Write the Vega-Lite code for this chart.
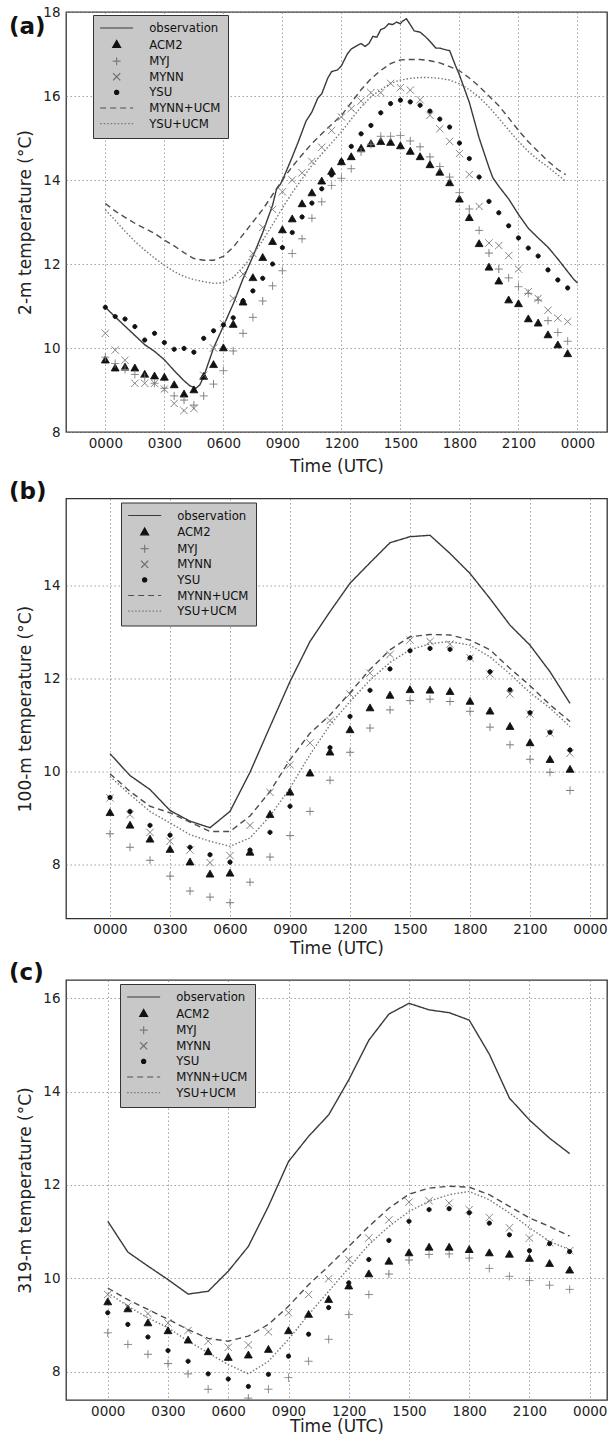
{
"$schema": "https://vega.github.io/schema/vega-lite/v6.json",
"padding": {"left": 8, "top": 4, "right": 2, "bottom": 2},
"spacing": 3.5,
"config": {
 "font": "DejaVu Sans",
 "background": "white",
 "view": {"stroke": "#333333", "strokeWidth": 1.3},
 "axis": {"domain": false, "ticks": false, "grid": true, "gridColor": "#8c8c8c", "gridDash": [1.5, 2.5], "gridWidth": 0.8, "labelFont": "DejaVu Sans", "labelFontSize": 13.5, "labelColor": "#222222", "titleFont": "DejaVu Sans", "titleFontSize": 17, "titleFontWeight": "normal", "titleColor": "#222222"},
 "axisX": {"labelPadding": 4, "titlePadding": 6, "labelExpr": "datum.value % 24 == 0 ? '0000' : (datum.value < 10 ? '0' : '') + toString(datum.value * 100)"},
 "axisY": {"labelPadding": 6, "titlePadding": 8},
 "legend": {"orient": "none", "fillColor": "#c8c8c8", "strokeColor": "#333333", "padding": 7, "labelFont": "DejaVu Sans", "labelFontSize": 11.7, "labelColor": "#111111", "symbolSize": 100, "symbolStrokeWidth": 1.2, "rowPadding": 2.6, "labelOffset": 26.5, "symbolOffset": 10.65},
 "title": {"font": "DejaVu Sans", "fontSize": 23, "fontWeight": "bold", "anchor": "start", "frame": "group", "color": "#111111", "offset": 0, "baseline": "alphabetic"}
},
"resolve": {
 "scale": {"stroke": "independent", "fill": "independent", "shape": "independent", "strokeDash": "independent"},
 "legend": {"stroke": "independent", "fill": "independent", "shape": "independent", "strokeDash": "independent"}
},
"datasets": {
"a": [
{"series":"ACM2","t":0,"v":9.71},{"series":"ACM2","t":0.5,"v":9.52},{"series":"ACM2","t":1,"v":9.54},{"series":"ACM2","t":1.5,"v":9.52},{"series":"ACM2","t":2,"v":9.37},{"series":"ACM2","t":2.5,"v":9.33},{"series":"ACM2","t":3,"v":9.30},{"series":"ACM2","t":3.5,"v":9.12},{"series":"ACM2","t":4,"v":8.90},{"series":"ACM2","t":4.5,"v":9.00},{"series":"ACM2","t":5,"v":9.32},{"series":"ACM2","t":5.5,"v":9.60},{"series":"ACM2","t":6,"v":10.00},{"series":"ACM2","t":6.5,"v":10.56},{"series":"ACM2","t":7,"v":11.09},{"series":"ACM2","t":7.5,"v":11.67},{"series":"ACM2","t":8,"v":12.15},{"series":"ACM2","t":8.5,"v":12.53},{"series":"ACM2","t":9,"v":12.81},{"series":"ACM2","t":9.5,"v":13.07},{"series":"ACM2","t":10,"v":13.43},{"series":"ACM2","t":10.5,"v":13.69},{"series":"ACM2","t":11,"v":13.97},{"series":"ACM2","t":11.5,"v":14.20},{"series":"ACM2","t":12,"v":14.43},{"series":"ACM2","t":12.5,"v":14.55},{"series":"ACM2","t":13,"v":14.75},{"series":"ACM2","t":13.5,"v":14.86},{"series":"ACM2","t":14,"v":14.91},{"series":"ACM2","t":14.5,"v":14.89},{"series":"ACM2","t":15,"v":14.81},{"series":"ACM2","t":15.5,"v":14.68},{"series":"ACM2","t":16,"v":14.55},{"series":"ACM2","t":16.5,"v":14.36},{"series":"ACM2","t":17,"v":14.18},{"series":"ACM2","t":17.5,"v":13.93},{"series":"ACM2","t":18,"v":13.54},{"series":"ACM2","t":18.5,"v":13.10},{"series":"ACM2","t":19,"v":12.48},{"series":"ACM2","t":19.5,"v":11.92},{"series":"ACM2","t":20,"v":11.59},{"series":"ACM2","t":20.5,"v":11.14},{"series":"ACM2","t":21,"v":11.05},{"series":"ACM2","t":21.5,"v":10.69},{"series":"ACM2","t":22,"v":10.59},{"series":"ACM2","t":22.5,"v":10.31},{"series":"ACM2","t":23,"v":10.07},{"series":"ACM2","t":23.5,"v":9.86},
{"series":"MYJ","t":0,"v":9.78},{"series":"MYJ","t":0.5,"v":9.63},{"series":"MYJ","t":1,"v":9.49},{"series":"MYJ","t":1.5,"v":9.37},{"series":"MYJ","t":2,"v":9.30},{"series":"MYJ","t":2.5,"v":9.16},{"series":"MYJ","t":3,"v":9.04},{"series":"MYJ","t":3.5,"v":8.86},{"series":"MYJ","t":4,"v":8.76},{"series":"MYJ","t":4.5,"v":8.64},{"series":"MYJ","t":5,"v":8.86},{"series":"MYJ","t":5.5,"v":9.14},{"series":"MYJ","t":6,"v":9.46},{"series":"MYJ","t":6.5,"v":9.93},{"series":"MYJ","t":7,"v":10.35},{"series":"MYJ","t":7.5,"v":10.73},{"series":"MYJ","t":8,"v":11.12},{"series":"MYJ","t":8.5,"v":11.48},{"series":"MYJ","t":9,"v":11.84},{"series":"MYJ","t":9.5,"v":12.25},{"series":"MYJ","t":10,"v":12.60},{"series":"MYJ","t":10.5,"v":13.09},{"series":"MYJ","t":11,"v":13.48},{"series":"MYJ","t":11.5,"v":13.87},{"series":"MYJ","t":12,"v":14.04},{"series":"MYJ","t":12.5,"v":14.27},{"series":"MYJ","t":13,"v":14.67},{"series":"MYJ","t":13.5,"v":14.85},{"series":"MYJ","t":14,"v":15.04},{"series":"MYJ","t":14.5,"v":15.04},{"series":"MYJ","t":15,"v":15.06},{"series":"MYJ","t":15.5,"v":14.93},{"series":"MYJ","t":16,"v":14.79},{"series":"MYJ","t":16.5,"v":14.55},{"series":"MYJ","t":17,"v":14.32},{"series":"MYJ","t":17.5,"v":14.07},{"series":"MYJ","t":18,"v":13.70},{"series":"MYJ","t":18.5,"v":13.31},{"series":"MYJ","t":19,"v":12.80},{"series":"MYJ","t":19.5,"v":12.26},{"series":"MYJ","t":20,"v":11.88},{"series":"MYJ","t":20.5,"v":11.67},{"series":"MYJ","t":21,"v":11.46},{"series":"MYJ","t":21.5,"v":11.30},{"series":"MYJ","t":22,"v":11.14},{"series":"MYJ","t":22.5,"v":10.65},{"series":"MYJ","t":23,"v":10.37},{"series":"MYJ","t":23.5,"v":10.16},
{"series":"MYNN","t":0,"v":10.35},{"series":"MYNN","t":0.5,"v":9.95},{"series":"MYNN","t":1,"v":9.71},{"series":"MYNN","t":1.5,"v":9.16},{"series":"MYNN","t":2,"v":9.16},{"series":"MYNN","t":2.5,"v":9.16},{"series":"MYNN","t":3,"v":9.02},{"series":"MYNN","t":3.5,"v":8.68},{"series":"MYNN","t":4,"v":8.51},{"series":"MYNN","t":4.5,"v":8.56},{"series":"MYNN","t":5,"v":9.35},{"series":"MYNN","t":5.5,"v":10.00},{"series":"MYNN","t":6,"v":10.58},{"series":"MYNN","t":6.5,"v":11.18},{"series":"MYNN","t":7,"v":11.76},{"series":"MYNN","t":7.5,"v":12.25},{"series":"MYNN","t":8,"v":12.87},{"series":"MYNN","t":8.5,"v":13.30},{"series":"MYNN","t":9,"v":13.72},{"series":"MYNN","t":9.5,"v":14.00},{"series":"MYNN","t":10,"v":14.17},{"series":"MYNN","t":10.5,"v":14.44},{"series":"MYNN","t":11,"v":14.78},{"series":"MYNN","t":11.5,"v":15.18},{"series":"MYNN","t":12,"v":15.50},{"series":"MYNN","t":12.5,"v":15.70},{"series":"MYNN","t":13,"v":15.88},{"series":"MYNN","t":13.5,"v":16.08},{"series":"MYNN","t":14,"v":16.08},{"series":"MYNN","t":14.5,"v":16.30},{"series":"MYNN","t":15,"v":16.20},{"series":"MYNN","t":15.5,"v":16.14},{"series":"MYNN","t":16,"v":15.91},{"series":"MYNN","t":16.5,"v":15.54},{"series":"MYNN","t":17,"v":15.22},{"series":"MYNN","t":17.5,"v":14.92},{"series":"MYNN","t":18,"v":14.63},{"series":"MYNN","t":18.5,"v":14.13},{"series":"MYNN","t":19,"v":13.37},{"series":"MYNN","t":19.5,"v":12.50},{"series":"MYNN","t":20,"v":12.44},{"series":"MYNN","t":20.5,"v":12.20},{"series":"MYNN","t":21,"v":11.88},{"series":"MYNN","t":21.5,"v":11.34},{"series":"MYNN","t":22,"v":11.18},{"series":"MYNN","t":22.5,"v":10.90},{"series":"MYNN","t":23,"v":10.71},{"series":"MYNN","t":23.5,"v":10.63},
{"series":"YSU","t":0,"v":10.97},{"series":"YSU","t":0.5,"v":10.75},{"series":"YSU","t":1,"v":10.69},{"series":"YSU","t":1.5,"v":10.51},{"series":"YSU","t":2,"v":10.19},{"series":"YSU","t":2.5,"v":10.35},{"series":"YSU","t":3,"v":10.13},{"series":"YSU","t":3.5,"v":9.97},{"series":"YSU","t":4,"v":9.99},{"series":"YSU","t":4.5,"v":9.90},{"series":"YSU","t":5,"v":10.23},{"series":"YSU","t":5.5,"v":10.41},{"series":"YSU","t":6,"v":10.55},{"series":"YSU","t":6.5,"v":10.72},{"series":"YSU","t":7,"v":11.12},{"series":"YSU","t":7.5,"v":11.36},{"series":"YSU","t":8,"v":11.66},{"series":"YSU","t":8.5,"v":12.00},{"series":"YSU","t":9,"v":12.39},{"series":"YSU","t":9.5,"v":12.75},{"series":"YSU","t":10,"v":13.12},{"series":"YSU","t":10.5,"v":13.45},{"series":"YSU","t":11,"v":13.79},{"series":"YSU","t":11.5,"v":14.12},{"series":"YSU","t":12,"v":14.45},{"series":"YSU","t":12.5,"v":14.80},{"series":"YSU","t":13,"v":15.10},{"series":"YSU","t":13.5,"v":15.30},{"series":"YSU","t":14,"v":15.60},{"series":"YSU","t":14.5,"v":15.82},{"series":"YSU","t":15,"v":15.90},{"series":"YSU","t":15.5,"v":15.86},{"series":"YSU","t":16,"v":15.78},{"series":"YSU","t":16.5,"v":15.64},{"series":"YSU","t":17,"v":15.45},{"series":"YSU","t":17.5,"v":15.26},{"series":"YSU","t":18,"v":14.88},{"series":"YSU","t":18.5,"v":14.51},{"series":"YSU","t":19,"v":14.07},{"series":"YSU","t":19.5,"v":13.49},{"series":"YSU","t":20,"v":13.22},{"series":"YSU","t":20.5,"v":12.91},{"series":"YSU","t":21,"v":12.62},{"series":"YSU","t":21.5,"v":12.38},{"series":"YSU","t":22,"v":12.19},{"series":"YSU","t":22.5,"v":11.86},{"series":"YSU","t":23,"v":11.62},{"series":"YSU","t":23.5,"v":11.43},
{"series":"observation","t":0,"v":10.97},{"series":"observation","t":0.5,"v":10.74},{"series":"observation","t":1,"v":10.52},{"series":"observation","t":1.5,"v":10.3},{"series":"observation","t":2,"v":10.08},{"series":"observation","t":2.5,"v":9.92},{"series":"observation","t":3,"v":9.72},{"series":"observation","t":3.5,"v":9.46},{"series":"observation","t":4,"v":9.22},{"series":"observation","t":4.3,"v":9.1},{"series":"observation","t":4.6,"v":9.04},{"series":"observation","t":4.8,"v":9.12},{"series":"observation","t":5,"v":9.32},{"series":"observation","t":5.5,"v":10.0},{"series":"observation","t":6,"v":10.52},{"series":"observation","t":6.5,"v":11.05},{"series":"observation","t":7,"v":11.65},{"series":"observation","t":7.5,"v":12.18},{"series":"observation","t":8,"v":12.75},{"series":"observation","t":8.5,"v":13.4},{"series":"observation","t":8.7,"v":13.78},{"series":"observation","t":8.9,"v":13.9},{"series":"observation","t":9.1,"v":14.1},{"series":"observation","t":9.5,"v":14.55},{"series":"observation","t":9.8,"v":14.9},{"series":"observation","t":10,"v":15.15},{"series":"observation","t":10.2,"v":15.4},{"series":"observation","t":10.5,"v":15.62},{"series":"observation","t":10.8,"v":15.95},{"series":"observation","t":11,"v":16.05},{"series":"observation","t":11.3,"v":16.42},{"series":"observation","t":11.5,"v":16.58},{"series":"observation","t":11.8,"v":16.62},{"series":"observation","t":12,"v":16.72},{"series":"observation","t":12.3,"v":17.0},{"series":"observation","t":12.5,"v":17.12},{"series":"observation","t":12.8,"v":17.2},{"series":"observation","t":13,"v":17.25},{"series":"observation","t":13.2,"v":17.18},{"series":"observation","t":13.4,"v":17.25},{"series":"observation","t":13.6,"v":17.42},{"series":"observation","t":13.8,"v":17.4},{"series":"observation","t":14,"v":17.58},{"series":"observation","t":14.2,"v":17.62},{"series":"observation","t":14.4,"v":17.72},{"series":"observation","t":14.6,"v":17.7},{"series":"observation","t":14.8,"v":17.76},{"series":"observation","t":15,"v":17.72},{"series":"observation","t":15.1,"v":17.78},{"series":"observation","t":15.3,"v":17.84},{"series":"observation","t":15.5,"v":17.7},{"series":"observation","t":15.7,"v":17.55},{"series":"observation","t":16,"v":17.52},{"series":"observation","t":16.3,"v":17.4},{"series":"observation","t":16.6,"v":17.25},{"series":"observation","t":16.8,"v":17.14},{"series":"observation","t":17,"v":17.14},{"series":"observation","t":17.3,"v":17.1},{"series":"observation","t":17.5,"v":17.08},{"series":"observation","t":17.8,"v":16.72},{"series":"observation","t":18,"v":16.5},{"series":"observation","t":18.5,"v":15.85},{"series":"observation","t":19,"v":15.0},{"series":"observation","t":19.5,"v":14.3},{"series":"observation","t":19.7,"v":14.05},{"series":"observation","t":20,"v":13.85},{"series":"observation","t":20.5,"v":13.55},{"series":"observation","t":21,"v":13.18},{"series":"observation","t":21.5,"v":12.85},{"series":"observation","t":22,"v":12.62},{"series":"observation","t":22.5,"v":12.4},{"series":"observation","t":23,"v":12.12},{"series":"observation","t":23.5,"v":11.82},{"series":"observation","t":23.8,"v":11.64},{"series":"observation","t":24,"v":11.55},
{"series":"MYNN+UCM","t":0,"v":13.44},{"series":"MYNN+UCM","t":0.5,"v":13.26},{"series":"MYNN+UCM","t":1,"v":13.11},{"series":"MYNN+UCM","t":1.5,"v":12.97},{"series":"MYNN+UCM","t":2,"v":12.85},{"series":"MYNN+UCM","t":2.5,"v":12.73},{"series":"MYNN+UCM","t":3,"v":12.57},{"series":"MYNN+UCM","t":3.5,"v":12.43},{"series":"MYNN+UCM","t":4,"v":12.27},{"series":"MYNN+UCM","t":4.5,"v":12.13},{"series":"MYNN+UCM","t":5,"v":12.09},{"series":"MYNN+UCM","t":5.5,"v":12.09},{"series":"MYNN+UCM","t":6,"v":12.18},{"series":"MYNN+UCM","t":6.5,"v":12.4},{"series":"MYNN+UCM","t":7,"v":12.7},{"series":"MYNN+UCM","t":7.5,"v":13.0},{"series":"MYNN+UCM","t":8,"v":13.3},{"series":"MYNN+UCM","t":8.5,"v":13.65},{"series":"MYNN+UCM","t":9,"v":14.0},{"series":"MYNN+UCM","t":9.5,"v":14.32},{"series":"MYNN+UCM","t":10,"v":14.6},{"series":"MYNN+UCM","t":10.5,"v":14.87},{"series":"MYNN+UCM","t":11,"v":15.1},{"series":"MYNN+UCM","t":11.5,"v":15.32},{"series":"MYNN+UCM","t":12,"v":15.54},{"series":"MYNN+UCM","t":12.5,"v":15.84},{"series":"MYNN+UCM","t":13,"v":16.15},{"series":"MYNN+UCM","t":13.5,"v":16.41},{"series":"MYNN+UCM","t":14,"v":16.61},{"series":"MYNN+UCM","t":14.5,"v":16.77},{"series":"MYNN+UCM","t":15,"v":16.86},{"series":"MYNN+UCM","t":15.5,"v":16.87},{"series":"MYNN+UCM","t":16,"v":16.87},{"series":"MYNN+UCM","t":16.5,"v":16.84},{"series":"MYNN+UCM","t":17,"v":16.79},{"series":"MYNN+UCM","t":17.5,"v":16.7},{"series":"MYNN+UCM","t":18,"v":16.6},{"series":"MYNN+UCM","t":18.5,"v":16.43},{"series":"MYNN+UCM","t":19,"v":16.23},{"series":"MYNN+UCM","t":19.5,"v":16.0},{"series":"MYNN+UCM","t":20,"v":15.77},{"series":"MYNN+UCM","t":20.5,"v":15.48},{"series":"MYNN+UCM","t":21,"v":15.18},{"series":"MYNN+UCM","t":21.5,"v":14.91},{"series":"MYNN+UCM","t":22,"v":14.68},{"series":"MYNN+UCM","t":22.5,"v":14.45},{"series":"MYNN+UCM","t":23,"v":14.25},{"series":"MYNN+UCM","t":23.4,"v":14.13},
{"series":"YSU+UCM","t":0,"v":13.29},{"series":"YSU+UCM","t":0.5,"v":13.04},{"series":"YSU+UCM","t":1,"v":12.78},{"series":"YSU+UCM","t":1.5,"v":12.54},{"series":"YSU+UCM","t":2,"v":12.33},{"series":"YSU+UCM","t":2.5,"v":12.14},{"series":"YSU+UCM","t":3,"v":11.97},{"series":"YSU+UCM","t":3.5,"v":11.82},{"series":"YSU+UCM","t":4,"v":11.7},{"series":"YSU+UCM","t":4.5,"v":11.63},{"series":"YSU+UCM","t":5,"v":11.58},{"series":"YSU+UCM","t":5.5,"v":11.54},{"series":"YSU+UCM","t":6,"v":11.55},{"series":"YSU+UCM","t":6.5,"v":11.68},{"series":"YSU+UCM","t":7,"v":11.92},{"series":"YSU+UCM","t":7.5,"v":12.22},{"series":"YSU+UCM","t":8,"v":12.56},{"series":"YSU+UCM","t":8.5,"v":12.94},{"series":"YSU+UCM","t":9,"v":13.33},{"series":"YSU+UCM","t":9.5,"v":13.7},{"series":"YSU+UCM","t":10,"v":14.03},{"series":"YSU+UCM","t":10.5,"v":14.35},{"series":"YSU+UCM","t":11,"v":14.62},{"series":"YSU+UCM","t":11.5,"v":14.88},{"series":"YSU+UCM","t":12,"v":15.15},{"series":"YSU+UCM","t":12.5,"v":15.45},{"series":"YSU+UCM","t":13,"v":15.74},{"series":"YSU+UCM","t":13.5,"v":15.98},{"series":"YSU+UCM","t":14,"v":16.15},{"series":"YSU+UCM","t":14.5,"v":16.3},{"series":"YSU+UCM","t":15,"v":16.38},{"series":"YSU+UCM","t":15.5,"v":16.42},{"series":"YSU+UCM","t":16,"v":16.44},{"series":"YSU+UCM","t":16.5,"v":16.44},{"series":"YSU+UCM","t":17,"v":16.42},{"series":"YSU+UCM","t":17.5,"v":16.38},{"series":"YSU+UCM","t":18,"v":16.29},{"series":"YSU+UCM","t":18.5,"v":16.15},{"series":"YSU+UCM","t":19,"v":15.97},{"series":"YSU+UCM","t":19.5,"v":15.74},{"series":"YSU+UCM","t":20,"v":15.47},{"series":"YSU+UCM","t":20.5,"v":15.19},{"series":"YSU+UCM","t":21,"v":14.92},{"series":"YSU+UCM","t":21.5,"v":14.68},{"series":"YSU+UCM","t":22,"v":14.48},{"series":"YSU+UCM","t":22.5,"v":14.31},{"series":"YSU+UCM","t":23,"v":14.12},{"series":"YSU+UCM","t":23.4,"v":13.97}
],
"b": [
{"series":"ACM2","t":0,"v":9.11},{"series":"ACM2","t":1,"v":8.84},{"series":"ACM2","t":2,"v":8.54},{"series":"ACM2","t":3,"v":8.32},{"series":"ACM2","t":4,"v":8.05},{"series":"ACM2","t":5,"v":7.79},{"series":"ACM2","t":6,"v":7.81},{"series":"ACM2","t":7,"v":8.26},{"series":"ACM2","t":8,"v":9.07},{"series":"ACM2","t":9,"v":9.55},{"series":"ACM2","t":10,"v":9.96},{"series":"ACM2","t":11,"v":10.41},{"series":"ACM2","t":12,"v":10.89},{"series":"ACM2","t":13,"v":11.36},{"series":"ACM2","t":14,"v":11.63},{"series":"ACM2","t":15,"v":11.75},{"series":"ACM2","t":16,"v":11.74},{"series":"ACM2","t":17,"v":11.71},{"series":"ACM2","t":18,"v":11.5},{"series":"ACM2","t":19,"v":11.29},{"series":"ACM2","t":20,"v":10.96},{"series":"ACM2","t":21,"v":10.61},{"series":"ACM2","t":22,"v":10.25},{"series":"ACM2","t":23,"v":10.04},
{"series":"MYJ","t":0,"v":8.66},{"series":"MYJ","t":1,"v":8.37},{"series":"MYJ","t":2,"v":8.09},{"series":"MYJ","t":3,"v":7.75},{"series":"MYJ","t":4,"v":7.43},{"series":"MYJ","t":5,"v":7.3},{"series":"MYJ","t":6,"v":7.18},{"series":"MYJ","t":7,"v":7.62},{"series":"MYJ","t":8,"v":8.16},{"series":"MYJ","t":9,"v":8.62},{"series":"MYJ","t":10,"v":9.14},{"series":"MYJ","t":11,"v":9.81},{"series":"MYJ","t":12,"v":10.41},{"series":"MYJ","t":13,"v":10.93},{"series":"MYJ","t":14,"v":11.32},{"series":"MYJ","t":15,"v":11.52},{"series":"MYJ","t":16,"v":11.55},{"series":"MYJ","t":17,"v":11.5},{"series":"MYJ","t":18,"v":11.29},{"series":"MYJ","t":19,"v":10.95},{"series":"MYJ","t":20,"v":10.57},{"series":"MYJ","t":21,"v":10.26},{"series":"MYJ","t":22,"v":9.98},{"series":"MYJ","t":23,"v":9.59},
{"series":"MYNN","t":0,"v":9.43},{"series":"MYNN","t":1,"v":9.07},{"series":"MYNN","t":2,"v":8.69},{"series":"MYNN","t":3,"v":8.5},{"series":"MYNN","t":4,"v":8.31},{"series":"MYNN","t":5,"v":8.04},{"series":"MYNN","t":6,"v":8.19},{"series":"MYNN","t":7,"v":8.84},{"series":"MYNN","t":8,"v":9.55},{"series":"MYNN","t":9,"v":10.14},{"series":"MYNN","t":10,"v":10.61},{"series":"MYNN","t":11,"v":11.09},{"series":"MYNN","t":12,"v":11.66},{"series":"MYNN","t":13,"v":12.11},{"series":"MYNN","t":14,"v":12.51},{"series":"MYNN","t":15,"v":12.82},{"series":"MYNN","t":16,"v":12.79},{"series":"MYNN","t":17,"v":12.73},{"series":"MYNN","t":18,"v":12.44},{"series":"MYNN","t":19,"v":12.09},{"series":"MYNN","t":20,"v":11.66},{"series":"MYNN","t":21,"v":11.23},{"series":"MYNN","t":22,"v":10.82},{"series":"MYNN","t":23,"v":10.39},
{"series":"YSU","t":0,"v":9.44},{"series":"YSU","t":1,"v":9.14},{"series":"YSU","t":2,"v":8.84},{"series":"YSU","t":3,"v":8.63},{"series":"YSU","t":4,"v":8.37},{"series":"YSU","t":5,"v":8.21},{"series":"YSU","t":6,"v":8.05},{"series":"YSU","t":7,"v":8.31},{"series":"YSU","t":8,"v":8.69},{"series":"YSU","t":9,"v":9.25},{"series":"YSU","t":10,"v":9.95},{"series":"YSU","t":11,"v":10.51},{"series":"YSU","t":12,"v":11.18},{"series":"YSU","t":13,"v":11.74},{"series":"YSU","t":14,"v":12.2},{"series":"YSU","t":15,"v":12.59},{"series":"YSU","t":16,"v":12.64},{"series":"YSU","t":17,"v":12.62},{"series":"YSU","t":18,"v":12.44},{"series":"YSU","t":19,"v":12.14},{"series":"YSU","t":20,"v":11.75},{"series":"YSU","t":21,"v":11.26},{"series":"YSU","t":22,"v":10.84},{"series":"YSU","t":23,"v":10.46},
{"series":"observation","t":0,"v":10.38},{"series":"observation","t":1,"v":9.91},{"series":"observation","t":2,"v":9.61},{"series":"observation","t":3,"v":9.16},{"series":"observation","t":4,"v":8.93},{"series":"observation","t":5,"v":8.79},{"series":"observation","t":6,"v":9.14},{"series":"observation","t":7,"v":9.98},{"series":"observation","t":8,"v":10.96},{"series":"observation","t":9,"v":11.93},{"series":"observation","t":10,"v":12.79},{"series":"observation","t":11,"v":13.43},{"series":"observation","t":12,"v":14.04},{"series":"observation","t":13,"v":14.48},{"series":"observation","t":14,"v":14.91},{"series":"observation","t":15,"v":15.04},{"series":"observation","t":16,"v":15.07},{"series":"observation","t":17,"v":14.68},{"series":"observation","t":18,"v":14.25},{"series":"observation","t":19,"v":13.71},{"series":"observation","t":20,"v":13.14},{"series":"observation","t":21,"v":12.71},{"series":"observation","t":22,"v":12.14},{"series":"observation","t":23,"v":11.46},
{"series":"MYNN+UCM","t":0,"v":9.95},{"series":"MYNN+UCM","t":1,"v":9.57},{"series":"MYNN+UCM","t":2,"v":9.25},{"series":"MYNN+UCM","t":3,"v":9.11},{"series":"MYNN+UCM","t":4,"v":8.91},{"series":"MYNN+UCM","t":5,"v":8.71},{"series":"MYNN+UCM","t":6,"v":8.71},{"series":"MYNN+UCM","t":7,"v":9.04},{"series":"MYNN+UCM","t":8,"v":9.57},{"series":"MYNN+UCM","t":9,"v":10.25},{"series":"MYNN+UCM","t":10,"v":10.82},{"series":"MYNN+UCM","t":11,"v":11.21},{"series":"MYNN+UCM","t":12,"v":11.69},{"series":"MYNN+UCM","t":13,"v":12.19},{"series":"MYNN+UCM","t":14,"v":12.61},{"series":"MYNN+UCM","t":15,"v":12.89},{"series":"MYNN+UCM","t":16,"v":12.94},{"series":"MYNN+UCM","t":17,"v":12.93},{"series":"MYNN+UCM","t":18,"v":12.82},{"series":"MYNN+UCM","t":19,"v":12.61},{"series":"MYNN+UCM","t":20,"v":12.21},{"series":"MYNN+UCM","t":21,"v":11.84},{"series":"MYNN+UCM","t":22,"v":11.43},{"series":"MYNN+UCM","t":23,"v":11.07},
{"series":"YSU+UCM","t":0,"v":9.89},{"series":"YSU+UCM","t":1,"v":9.5},{"series":"YSU+UCM","t":2,"v":9.14},{"series":"YSU+UCM","t":3,"v":8.89},{"series":"YSU+UCM","t":4,"v":8.64},{"series":"YSU+UCM","t":5,"v":8.5},{"series":"YSU+UCM","t":6,"v":8.39},{"series":"YSU+UCM","t":7,"v":8.57},{"series":"YSU+UCM","t":8,"v":9.04},{"series":"YSU+UCM","t":9,"v":9.64},{"series":"YSU+UCM","t":10,"v":10.36},{"series":"YSU+UCM","t":11,"v":11.0},{"series":"YSU+UCM","t":12,"v":11.5},{"series":"YSU+UCM","t":13,"v":11.96},{"series":"YSU+UCM","t":14,"v":12.34},{"series":"YSU+UCM","t":15,"v":12.61},{"series":"YSU+UCM","t":16,"v":12.74},{"series":"YSU+UCM","t":17,"v":12.79},{"series":"YSU+UCM","t":18,"v":12.71},{"series":"YSU+UCM","t":19,"v":12.46},{"series":"YSU+UCM","t":20,"v":12.09},{"series":"YSU+UCM","t":21,"v":11.69},{"series":"YSU+UCM","t":22,"v":11.36},{"series":"YSU+UCM","t":23,"v":10.96}
],
"c": [
{"series":"ACM2","t":0,"v":9.49},{"series":"ACM2","t":1,"v":9.34},{"series":"ACM2","t":2,"v":9.04},{"series":"ACM2","t":3,"v":8.87},{"series":"ACM2","t":4,"v":8.67},{"series":"ACM2","t":5,"v":8.42},{"series":"ACM2","t":6,"v":8.3},{"series":"ACM2","t":7,"v":8.35},{"series":"ACM2","t":8,"v":8.47},{"series":"ACM2","t":9,"v":8.87},{"series":"ACM2","t":10,"v":9.22},{"series":"ACM2","t":11,"v":9.54},{"series":"ACM2","t":12,"v":9.83},{"series":"ACM2","t":13,"v":10.09},{"series":"ACM2","t":14,"v":10.36},{"series":"ACM2","t":15,"v":10.54},{"series":"ACM2","t":16,"v":10.66},{"series":"ACM2","t":17,"v":10.66},{"series":"ACM2","t":18,"v":10.61},{"series":"ACM2","t":19,"v":10.54},{"series":"ACM2","t":20,"v":10.51},{"series":"ACM2","t":21,"v":10.42},{"series":"ACM2","t":22,"v":10.31},{"series":"ACM2","t":23,"v":10.17},
{"series":"MYJ","t":0,"v":8.83},{"series":"MYJ","t":1,"v":8.58},{"series":"MYJ","t":2,"v":8.37},{"series":"MYJ","t":3,"v":8.17},{"series":"MYJ","t":4,"v":7.95},{"series":"MYJ","t":5,"v":7.62},{"series":"MYJ","t":6,"v":7.33},{"series":"MYJ","t":7,"v":7.43},{"series":"MYJ","t":8,"v":7.62},{"series":"MYJ","t":9,"v":7.87},{"series":"MYJ","t":10,"v":8.22},{"series":"MYJ","t":11,"v":8.69},{"series":"MYJ","t":12,"v":9.22},{"series":"MYJ","t":13,"v":9.65},{"series":"MYJ","t":14,"v":10.09},{"series":"MYJ","t":15,"v":10.39},{"series":"MYJ","t":16,"v":10.51},{"series":"MYJ","t":17,"v":10.52},{"series":"MYJ","t":18,"v":10.43},{"series":"MYJ","t":19,"v":10.21},{"series":"MYJ","t":20,"v":10.04},{"series":"MYJ","t":21,"v":9.95},{"series":"MYJ","t":22,"v":9.85},{"series":"MYJ","t":23,"v":9.76},
{"series":"MYNN","t":0,"v":9.65},{"series":"MYNN","t":1,"v":9.4},{"series":"MYNN","t":2,"v":9.24},{"series":"MYNN","t":3,"v":9.04},{"series":"MYNN","t":4,"v":8.88},{"series":"MYNN","t":5,"v":8.65},{"series":"MYNN","t":6,"v":8.52},{"series":"MYNN","t":7,"v":8.57},{"series":"MYNN","t":8,"v":8.85},{"series":"MYNN","t":9,"v":9.26},{"series":"MYNN","t":10,"v":9.65},{"series":"MYNN","t":11,"v":9.99},{"series":"MYNN","t":12,"v":10.4},{"series":"MYNN","t":13,"v":10.86},{"series":"MYNN","t":14,"v":11.25},{"series":"MYNN","t":15,"v":11.63},{"series":"MYNN","t":16,"v":11.66},{"series":"MYNN","t":17,"v":11.61},{"series":"MYNN","t":18,"v":11.47},{"series":"MYNN","t":19,"v":11.3},{"series":"MYNN","t":20,"v":11.08},{"series":"MYNN","t":21,"v":10.86},{"series":"MYNN","t":22,"v":10.76},{"series":"MYNN","t":23,"v":10.59},
{"series":"YSU","t":0,"v":9.26},{"series":"YSU","t":1,"v":9.01},{"series":"YSU","t":2,"v":8.74},{"series":"YSU","t":3,"v":8.45},{"series":"YSU","t":4,"v":8.22},{"series":"YSU","t":5,"v":7.95},{"series":"YSU","t":6,"v":7.84},{"series":"YSU","t":7,"v":7.68},{"series":"YSU","t":8,"v":7.94},{"series":"YSU","t":9,"v":8.33},{"series":"YSU","t":10,"v":8.8},{"series":"YSU","t":11,"v":9.37},{"series":"YSU","t":12,"v":9.9},{"series":"YSU","t":13,"v":10.4},{"series":"YSU","t":14,"v":10.81},{"series":"YSU","t":15,"v":11.22},{"series":"YSU","t":16,"v":11.47},{"series":"YSU","t":17,"v":11.49},{"series":"YSU","t":18,"v":11.4},{"series":"YSU","t":19,"v":11.18},{"series":"YSU","t":20,"v":10.93},{"series":"YSU","t":21,"v":10.59},{"series":"YSU","t":22,"v":10.74},{"series":"YSU","t":23,"v":10.57},
{"series":"observation","t":0,"v":11.22},{"series":"observation","t":1,"v":10.56},{"series":"observation","t":2,"v":10.26},{"series":"observation","t":3,"v":9.97},{"series":"observation","t":4,"v":9.66},{"series":"observation","t":5,"v":9.72},{"series":"observation","t":6,"v":10.15},{"series":"observation","t":7,"v":10.68},{"series":"observation","t":8,"v":11.54},{"series":"observation","t":9,"v":12.5},{"series":"observation","t":10,"v":13.04},{"series":"observation","t":11,"v":13.5},{"series":"observation","t":12,"v":14.25},{"series":"observation","t":13,"v":15.1},{"series":"observation","t":14,"v":15.66},{"series":"observation","t":15,"v":15.89},{"series":"observation","t":16,"v":15.75},{"series":"observation","t":17,"v":15.69},{"series":"observation","t":18,"v":15.53},{"series":"observation","t":19,"v":14.8},{"series":"observation","t":20,"v":13.86},{"series":"observation","t":21,"v":13.39},{"series":"observation","t":22,"v":13.0},{"series":"observation","t":23,"v":12.67},
{"series":"MYNN+UCM","t":0,"v":9.79},{"series":"MYNN+UCM","t":1,"v":9.54},{"series":"MYNN+UCM","t":2,"v":9.33},{"series":"MYNN+UCM","t":3,"v":9.12},{"series":"MYNN+UCM","t":4,"v":8.9},{"series":"MYNN+UCM","t":5,"v":8.71},{"series":"MYNN+UCM","t":6,"v":8.65},{"series":"MYNN+UCM","t":7,"v":8.76},{"series":"MYNN+UCM","t":8,"v":9.01},{"series":"MYNN+UCM","t":9,"v":9.4},{"series":"MYNN+UCM","t":10,"v":9.86},{"series":"MYNN+UCM","t":11,"v":10.26},{"series":"MYNN+UCM","t":12,"v":10.68},{"series":"MYNN+UCM","t":13,"v":11.11},{"series":"MYNN+UCM","t":14,"v":11.5},{"series":"MYNN+UCM","t":15,"v":11.8},{"series":"MYNN+UCM","t":16,"v":11.93},{"series":"MYNN+UCM","t":17,"v":11.97},{"series":"MYNN+UCM","t":18,"v":11.95},{"series":"MYNN+UCM","t":19,"v":11.79},{"series":"MYNN+UCM","t":20,"v":11.54},{"series":"MYNN+UCM","t":21,"v":11.29},{"series":"MYNN+UCM","t":22,"v":11.11},{"series":"MYNN+UCM","t":23,"v":10.9},
{"series":"YSU+UCM","t":0,"v":9.69},{"series":"YSU+UCM","t":1,"v":9.4},{"series":"YSU+UCM","t":2,"v":9.15},{"series":"YSU+UCM","t":3,"v":8.94},{"series":"YSU+UCM","t":4,"v":8.65},{"series":"YSU+UCM","t":5,"v":8.4},{"series":"YSU+UCM","t":6,"v":8.15},{"series":"YSU+UCM","t":7,"v":7.95},{"series":"YSU+UCM","t":8,"v":8.22},{"series":"YSU+UCM","t":9,"v":8.69},{"series":"YSU+UCM","t":10,"v":9.22},{"series":"YSU+UCM","t":11,"v":9.72},{"series":"YSU+UCM","t":12,"v":10.22},{"series":"YSU+UCM","t":13,"v":10.72},{"series":"YSU+UCM","t":14,"v":11.11},{"series":"YSU+UCM","t":15,"v":11.43},{"series":"YSU+UCM","t":16,"v":11.65},{"series":"YSU+UCM","t":17,"v":11.79},{"series":"YSU+UCM","t":18,"v":11.86},{"series":"YSU+UCM","t":19,"v":11.68},{"series":"YSU+UCM","t":20,"v":11.4},{"series":"YSU+UCM","t":21,"v":11.08},{"series":"YSU+UCM","t":22,"v":10.79},{"series":"YSU+UCM","t":23,"v":10.61}
]
},
"vconcat": [
{
 "title": {"text": "(a)", "dx": -57, "dy": 38},
 "width": 541, "height": 420,
 "data": {"name": "a"},
 "encoding": {
  "x": {"field": "t", "type": "quantitative", "scale": {"domain": [-2, 25.5], "nice": false, "zero": false}, "axis": {"values": [0,3,6,9,12,15,18,21,24], "title": "Time (UTC)", "titlePadding": 9}},
  "y": {"field": "v", "type": "quantitative", "scale": {"domain": [8, 18], "nice": false, "zero": false}, "axis": {"values": [8,10,12,14,16,18], "title": "2-m temperature (°C)"}}
 },
 "layer": [
  {"transform": [{"filter": {"field": "series", "oneOf": ["observation","MYNN+UCM","YSU+UCM"]}}],
   "mark": {"type": "line", "clip": true, "strokeWidth": 1.4},
   "encoding": {
    "stroke": {"field": "series", "type": "nominal", "scale": {"domain": ["observation","ACM2","MYJ","MYNN","YSU","MYNN+UCM","YSU+UCM"], "range": ["#3a3a3a","#111111","#7a7a7a","#6e6e6e","#111111","#4e4e4e","#777777"]}, "legend": {"title": null, "legendX": 27, "legendY": 3}},
    "strokeDash": {"field": "series", "type": "nominal", "scale": {"domain": ["observation","ACM2","MYJ","MYNN","YSU","MYNN+UCM","YSU+UCM"], "range": [[1,0],[1,0],[1,0],[1,0],[1,0],[6,4],[1.5,2]]}, "legend": {"title": null, "legendX": 27, "legendY": 3}}
   }},
  {"transform": [{"filter": {"field": "series", "oneOf": ["ACM2","MYJ","MYNN","YSU"]}}],
   "mark": {"type": "point", "clip": true, "size": 100, "strokeWidth": 1, "opacity": 1},
   "encoding": {
    "stroke": {"field": "series", "type": "nominal", "scale": {"domain": ["observation","ACM2","MYJ","MYNN","YSU","MYNN+UCM","YSU+UCM"], "range": ["#3a3a3a","#111111","#7a7a7a","#6e6e6e","#111111","#4e4e4e","#777777"]}, "legend": {"title": null, "legendX": 27, "legendY": 3}},
    "fill": {"field": "series", "type": "nominal", "scale": {"domain": ["observation","ACM2","MYJ","MYNN","YSU","MYNN+UCM","YSU+UCM"], "range": ["transparent","#111111","transparent","transparent","#111111","transparent","transparent"]}, "legend": {"title": null, "legendX": 27, "legendY": 3}},
    "shape": {"field": "series", "type": "nominal", "scale": {"domain": ["observation","ACM2","MYJ","MYNN","YSU","MYNN+UCM","YSU+UCM"], "range": ["M-3.3,0L3.3,0","M0,-0.82L0.78,0.55L-0.78,0.55Z","M-0.8,0L0.8,0M0,-0.8L0,0.8","M-0.72,-0.72L0.72,0.72M-0.72,0.72L0.72,-0.72","M0.42,0A0.42,0.42,0,1,1,-0.42,0A0.42,0.42,0,1,1,0.42,0Z","M-3.3,0L3.3,0","M-3.3,0L3.3,0"]}, "legend": {"title": null, "legendX": 27, "legendY": 3}},
    "strokeDash": {"field": "series", "type": "nominal", "scale": {"domain": ["observation","ACM2","MYJ","MYNN","YSU","MYNN+UCM","YSU+UCM"], "range": [[1,0],[1,0],[1,0],[1,0],[1,0],[6,4],[1.5,2]]}, "legend": {"title": null, "legendX": 27, "legendY": 3}}
   }}
 ]
},
{
 "title": {"text": "(b)", "dx": -57, "dy": 9.5},
 "width": 541, "height": 420,
 "data": {"name": "b"},
 "encoding": {
  "x": {"field": "t", "type": "quantitative", "scale": {"domain": [-2.2, 24.85], "nice": false, "zero": false}, "axis": {"values": [0,3,6,9,12,15,18,21,24], "title": "Time (UTC)", "titlePadding": 4}},
  "y": {"field": "v", "type": "quantitative", "scale": {"domain": [6.84, 15.86], "nice": false, "zero": false}, "axis": {"values": [8,10,12,14], "title": "100-m temperature (°C)"}}
 },
 "layer": [
  {"transform": [{"filter": {"field": "series", "oneOf": ["observation","MYNN+UCM","YSU+UCM"]}}],
   "mark": {"type": "line", "clip": true, "strokeWidth": 1.4},
   "encoding": {
    "stroke": {"field": "series", "type": "nominal", "scale": {"domain": ["observation","ACM2","MYJ","MYNN","YSU","MYNN+UCM","YSU+UCM"], "range": ["#3a3a3a","#111111","#7a7a7a","#6e6e6e","#111111","#4e4e4e","#777777"]}, "legend": {"title": null, "legendX": 55, "legendY": 4}},
    "strokeDash": {"field": "series", "type": "nominal", "scale": {"domain": ["observation","ACM2","MYJ","MYNN","YSU","MYNN+UCM","YSU+UCM"], "range": [[1,0],[1,0],[1,0],[1,0],[1,0],[6,4],[1.5,2]]}, "legend": {"title": null, "legendX": 55, "legendY": 4}}
   }},
  {"transform": [{"filter": {"field": "series", "oneOf": ["ACM2","MYJ","MYNN","YSU"]}}],
   "mark": {"type": "point", "clip": true, "size": 100, "strokeWidth": 1, "opacity": 1},
   "encoding": {
    "stroke": {"field": "series", "type": "nominal", "scale": {"domain": ["observation","ACM2","MYJ","MYNN","YSU","MYNN+UCM","YSU+UCM"], "range": ["#3a3a3a","#111111","#7a7a7a","#6e6e6e","#111111","#4e4e4e","#777777"]}, "legend": {"title": null, "legendX": 55, "legendY": 4}},
    "fill": {"field": "series", "type": "nominal", "scale": {"domain": ["observation","ACM2","MYJ","MYNN","YSU","MYNN+UCM","YSU+UCM"], "range": ["transparent","#111111","transparent","transparent","#111111","transparent","transparent"]}, "legend": {"title": null, "legendX": 55, "legendY": 4}},
    "shape": {"field": "series", "type": "nominal", "scale": {"domain": ["observation","ACM2","MYJ","MYNN","YSU","MYNN+UCM","YSU+UCM"], "range": ["M-3.3,0L3.3,0","M0,-0.82L0.78,0.55L-0.78,0.55Z","M-0.8,0L0.8,0M0,-0.8L0,0.8","M-0.72,-0.72L0.72,0.72M-0.72,0.72L0.72,-0.72","M0.42,0A0.42,0.42,0,1,1,-0.42,0A0.42,0.42,0,1,1,0.42,0Z","M-3.3,0L3.3,0","M-3.3,0L3.3,0"]}, "legend": {"title": null, "legendX": 55, "legendY": 4}},
    "strokeDash": {"field": "series", "type": "nominal", "scale": {"domain": ["observation","ACM2","MYJ","MYNN","YSU","MYNN+UCM","YSU+UCM"], "range": [[1,0],[1,0],[1,0],[1,0],[1,0],[6,4],[1.5,2]]}, "legend": {"title": null, "legendX": 55, "legendY": 4}}
   }}
 ]
},
{
 "title": {"text": "(c)", "dx": -57, "dy": 8.8},
 "width": 541, "height": 420,
 "data": {"name": "c"},
 "encoding": {
  "x": {"field": "t", "type": "quantitative", "scale": {"domain": [-2.08, 24.86], "nice": false, "zero": false}, "axis": {"values": [0,3,6,9,12,15,18,21,24], "title": "Time (UTC)", "titlePadding": 1}},
  "y": {"field": "v", "type": "quantitative", "scale": {"domain": [7.39, 16.39], "nice": false, "zero": false}, "axis": {"values": [8,10,12,14,16], "title": "319-m temperature (°C)"}}
 },
 "layer": [
  {"transform": [{"filter": {"field": "series", "oneOf": ["observation","MYNN+UCM","YSU+UCM"]}}],
   "mark": {"type": "line", "clip": true, "strokeWidth": 1.4},
   "encoding": {
    "stroke": {"field": "series", "type": "nominal", "scale": {"domain": ["observation","ACM2","MYJ","MYNN","YSU","MYNN+UCM","YSU+UCM"], "range": ["#3a3a3a","#111111","#7a7a7a","#6e6e6e","#111111","#4e4e4e","#777777"]}, "legend": {"title": null, "legendX": 54, "legendY": 4}},
    "strokeDash": {"field": "series", "type": "nominal", "scale": {"domain": ["observation","ACM2","MYJ","MYNN","YSU","MYNN+UCM","YSU+UCM"], "range": [[1,0],[1,0],[1,0],[1,0],[1,0],[6,4],[1.5,2]]}, "legend": {"title": null, "legendX": 54, "legendY": 4}}
   }},
  {"transform": [{"filter": {"field": "series", "oneOf": ["ACM2","MYJ","MYNN","YSU"]}}],
   "mark": {"type": "point", "clip": true, "size": 100, "strokeWidth": 1, "opacity": 1},
   "encoding": {
    "stroke": {"field": "series", "type": "nominal", "scale": {"domain": ["observation","ACM2","MYJ","MYNN","YSU","MYNN+UCM","YSU+UCM"], "range": ["#3a3a3a","#111111","#7a7a7a","#6e6e6e","#111111","#4e4e4e","#777777"]}, "legend": {"title": null, "legendX": 54, "legendY": 4}},
    "fill": {"field": "series", "type": "nominal", "scale": {"domain": ["observation","ACM2","MYJ","MYNN","YSU","MYNN+UCM","YSU+UCM"], "range": ["transparent","#111111","transparent","transparent","#111111","transparent","transparent"]}, "legend": {"title": null, "legendX": 54, "legendY": 4}},
    "shape": {"field": "series", "type": "nominal", "scale": {"domain": ["observation","ACM2","MYJ","MYNN","YSU","MYNN+UCM","YSU+UCM"], "range": ["M-3.3,0L3.3,0","M0,-0.82L0.78,0.55L-0.78,0.55Z","M-0.8,0L0.8,0M0,-0.8L0,0.8","M-0.72,-0.72L0.72,0.72M-0.72,0.72L0.72,-0.72","M0.42,0A0.42,0.42,0,1,1,-0.42,0A0.42,0.42,0,1,1,0.42,0Z","M-3.3,0L3.3,0","M-3.3,0L3.3,0"]}, "legend": {"title": null, "legendX": 54, "legendY": 4}},
    "strokeDash": {"field": "series", "type": "nominal", "scale": {"domain": ["observation","ACM2","MYJ","MYNN","YSU","MYNN+UCM","YSU+UCM"], "range": [[1,0],[1,0],[1,0],[1,0],[1,0],[6,4],[1.5,2]]}, "legend": {"title": null, "legendX": 54, "legendY": 4}}
   }}
 ]
}
]
}
